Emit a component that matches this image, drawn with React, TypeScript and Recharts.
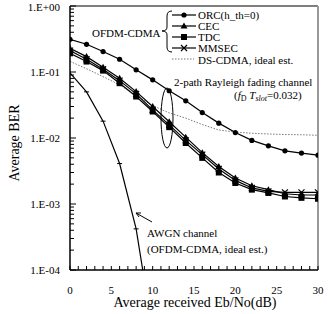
import React from "react";
import { LineChart, Line, XAxis, YAxis, ReferenceLine } from "recharts";

const SNR = [0, 2, 4, 6, 8, 10, 12, 14, 16, 18, 20, 22, 24, 26, 28, 30];
const ORC = [0.313, 0.263, 0.204, 0.156, 0.108, 0.076, 0.052, 0.0366, 0.0243, 0.0168, 0.0121, 0.0092, 0.0076, 0.0064, 0.0059, 0.0055];
const CEC = [0.229, 0.171, 0.118, 0.0806, 0.0505, 0.03, 0.0176, 0.0103, 0.006, 0.0037, 0.00247, 0.00189, 0.00165, 0.00143, 0.00137, 0.00137];
const TDC = [0.192, 0.144, 0.105, 0.0677, 0.0425, 0.0252, 0.0146, 0.0084, 0.005, 0.003, 0.00208, 0.00165, 0.00147, 0.0013, 0.00124, 0.0012];
const MMSEC = [0.211, 0.156, 0.11, 0.074, 0.0466, 0.0267, 0.0158, 0.0092, 0.0056, 0.0034, 0.00228, 0.00175, 0.00155, 0.0015, 0.0015, 0.0015];
const DS_CDMA = [0.145, 0.112, 0.085, 0.064, 0.044, 0.031, 0.024, 0.02, 0.016, 0.0132, 0.0123, 0.0118, 0.0115, 0.0113, 0.0112, 0.011];
const AWGN_X = [0, 2, 4, 6, 8, 8.8];
const AWGN = [0.097, 0.05, 0.018, 0.0041, 0.00042, 0.0001];

const X_TICKS = Array.from({ length: 31 }, (_, i) => i);
const Y_TICKS: number[] = [];
for (let d = -4; d <= -1; d++) {
  for (let m = 1; m <= 9; m++) Y_TICKS.push(Number((m * Math.pow(10, d)).toPrecision(3)));
}
Y_TICKS.push(1);

const FONT = "'Liberation Serif', 'Times New Roman', serif";

const toRows = (xs: number[], ys: number[]) => xs.map((x, i) => ({ x, y: ys[i] }));
const orcData = toRows(SNR, ORC);
const cecData = toRows(SNR, CEC);
const tdcData = toRows(SNR, TDC);
const mmsecData = toRows(SNR, MMSEC);
const dsData = toRows(SNR, DS_CDMA);
const awgnData = toRows(AWGN_X, AWGN);

function YTick(props: any) {
  const { x, y, payload } = props;
  const lg = Math.log10(payload.value);
  const e = Math.round(lg);
  const major = Math.abs(lg - e) < 1e-6;
  const label = "1.E" + (e >= 0 ? "+" : "-") + String(Math.abs(e)).padStart(2, "0");
  return (
    <g>
      <line x1={x} x2={x + (major ? 6 : 4)} y1={y} y2={y} stroke="#000" />
      {major && (
        <text x={x - 10} y={y} dy={e === 0 ? 5 : 4} textAnchor="end" fontSize={11} fontFamily={FONT} fill="#000">
          {label}
        </text>
      )}
    </g>
  );
}

function XTick(props: any) {
  const { x, y, payload } = props;
  const v = payload.value;
  return (
    <g>
      <line x1={x} x2={x} y1={y} y2={y - 4} stroke="#000" />
      {v % 5 === 0 && (
        <text x={x} y={y + 24} textAnchor="middle" fontSize={11} fontFamily={FONT} fill="#000">
          {v}
        </text>
      )}
    </g>
  );
}

const circleDot = (p: any) => <circle key={p.index} cx={p.cx} cy={p.cy} r={2.6} fill="#000" />;
const triDot = (p: any) => (
  <path key={p.index} d={`M${p.cx},${p.cy - 3.5}L${p.cx + 3.5},${p.cy + 2.5}L${p.cx - 3.5},${p.cy + 2.5}Z`} fill="#000" />
);
const squareDot = (p: any) => <rect key={p.index} x={p.cx - 3} y={p.cy - 3} width={6} height={6} fill="#000" />;
const crossDot = (p: any) => (
  <path key={p.index} d={`M${p.cx - 3},${p.cy - 3}L${p.cx + 3},${p.cy + 3}M${p.cx - 3},${p.cy + 3}L${p.cx + 3},${p.cy - 3}`} stroke="#000" strokeWidth={1.2} />
);
const dashDot = (p: any) =>
  p.payload.x % 2 === 0 && p.payload.x > 0 ? (
    <line key={p.index} x1={p.cx - 2.5} x2={p.cx + 2.5} y1={p.cy} y2={p.cy} stroke="#000" />
  ) : (
    <g key={p.index} />
  );

function Annotations() {
  const t = { fontFamily: FONT, fontSize: 11, fill: "#000" } as const;
  const rows = [
    { y: 15, label: "ORC(h_th=0)", m: "c" },
    { y: 26, label: "CEC", m: "t" },
    { y: 37, label: "TDC", m: "s" },
    { y: 48, label: "MMSEC", m: "x" },
  ];
  return (
    <svg width={328} height={314} style={{ position: "absolute", left: 0, top: 0, pointerEvents: "none" }}>
      <text x={92} y={37} {...t}>OFDM-CDMA</text>
      <path d="M172,11 Q167,11 167,16 L167,27 Q167,31 162,31 Q167,31 167,35 L167,47 Q167,52 172,52" fill="none" stroke="#000" strokeWidth={1} />
      {rows.map((r) => (
        <g key={r.label}>
          <line x1={172} x2={196} y1={r.y} y2={r.y} stroke="#000" strokeWidth={1.2} />
          {r.m === "c" && circleDot({ cx: 184, cy: r.y, index: 0 })}
          {r.m === "t" && triDot({ cx: 184, cy: r.y, index: 0 })}
          {r.m === "s" && squareDot({ cx: 184, cy: r.y, index: 0 })}
          {r.m === "x" && crossDot({ cx: 184, cy: r.y, index: 0 })}
          <text x={198} y={r.y + 4} {...t}>{r.label}</text>
        </g>
      ))}
      <line x1={172} x2={194} y1={59} y2={59} stroke="#777" strokeDasharray="1.5 1.5" />
      <text x={198} y={64} {...t}>DS-CDMA, ideal est.</text>
      <text x={174} y={86} {...t}>2-path Rayleigh fading channel</text>
      <text x={234} y={99} {...t}>
        (<tspan fontStyle="italic">f</tspan>
        <tspan fontSize={8} dy={2}>D</tspan>
        <tspan fontStyle="italic" dy={-2}> T</tspan>
        <tspan fontSize={8} fontStyle="italic" dy={2}>slot</tspan>
        <tspan dy={-2}>=0.032)</tspan>
      </text>
      <ellipse cx={167} cy={118} rx={6} ry={30} fill="none" stroke="#000" strokeWidth={1} />
      <line x1={152} y1={222} x2={136} y2={213} stroke="#000" strokeWidth={1} />
      <path d="M141,213 L136,213 L139,217" fill="none" stroke="#000" strokeWidth={1} />
      <text x={147} y={237} {...t}>AWGN channel</text>
      <text x={147} y={253} {...t}>(OFDM-CDMA, ideal est.)</text>
      <text x={195} y={307} textAnchor="middle" fontFamily={FONT} fontSize={14} fill="#000">
        Average received Eb/No(dB)
      </text>
      <text x={0} y={0} transform="translate(19,143) rotate(-90)" textAnchor="middle" fontFamily={FONT} fontSize={14} fill="#000">
        Average BER
      </text>
    </svg>
  );
}

export default function App() {
  return (
    <div style={{ position: "absolute", left: 0, top: 0, width: 328, height: 314, background: "#fff" }}>
      <LineChart width={328} height={314} margin={{ top: 6, right: 10, bottom: 0, left: 0 }}>
        <XAxis
          type="number"
          dataKey="x"
          domain={[0, 30]}
          ticks={X_TICKS}
          interval={0}
          tick={<XTick />}
          tickLine={false}
          tickSize={0}
          tickMargin={0}
          height={44}
          axisLine={{ stroke: "#000", strokeWidth: 1.5 }}
          allowDataOverflow
        />
        <YAxis
          type="number"
          scale="log"
          domain={[0.0001, 1]}
          ticks={Y_TICKS}
          interval={0}
          tick={<YTick />}
          tickLine={false}
          tickSize={0}
          tickMargin={0}
          width={70}
          axisLine={{ stroke: "#000", strokeWidth: 1.5 }}
          allowDataOverflow
        />
        <ReferenceLine y={1} stroke="#555" strokeWidth={1.5} />
        <ReferenceLine x={30} stroke="#999" strokeWidth={2} />
        <Line data={dsData} dataKey="y" stroke="#777" strokeWidth={1} strokeDasharray="1.5 1.5" dot={false} isAnimationActive={false} />
        <Line data={awgnData} dataKey="y" stroke="#000" strokeWidth={1.2} dot={dashDot} isAnimationActive={false} />
        <Line data={orcData} dataKey="y" stroke="#000" strokeWidth={1.2} dot={circleDot} isAnimationActive={false} />
        <Line data={cecData} dataKey="y" stroke="#000" strokeWidth={1.2} dot={triDot} isAnimationActive={false} />
        <Line data={mmsecData} dataKey="y" stroke="#000" strokeWidth={1.2} dot={crossDot} isAnimationActive={false} />
        <Line data={tdcData} dataKey="y" stroke="#000" strokeWidth={1.2} dot={squareDot} isAnimationActive={false} />
      </LineChart>
      <Annotations />
    </div>
  );
}
